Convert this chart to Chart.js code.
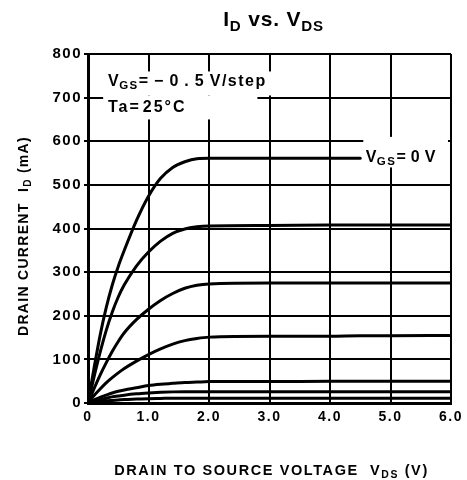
<!DOCTYPE html>
<html>
<head>
<meta charset="utf-8">
<script src="https://cdn.jsdelivr.net/npm/chart.js@4/dist/chart.umd.min.js"></script>
<style>
  html, body { margin: 0; padding: 0; background: #fff; }
  #wrap { width: 467px; height: 480px; position: relative; }
</style>
</head>
<body>
<div id="wrap"><canvas id="c" width="467" height="480"></canvas></div>
<script>
// Drain-source voltage sample points (V)
const vds = [0, 0.1, 0.2, 0.3, 0.4, 0.5, 0.6, 0.8, 1.0, 1.2, 1.4, 1.6, 1.8, 2.0, 3.0, 4.0, 4.5, 5.0, 6.0];
// Drain current (mA) per gate-source voltage step (VGS = 0, -0.5, -1.0, ... V)
const idVgs0   = [0, 80, 155, 218, 270, 313, 350, 418, 474, 515, 540, 553, 560, 561, 561, 561, 561, null, null];
const idVgsM05 = [0, 60, 116, 166, 208, 243, 271, 314, 346, 371, 389, 399, 404, 406, 407, 408, 408, 408, 408];
const idVgsM10 = [0, 33, 64, 92, 118, 141, 161, 191, 215, 235, 251, 263, 270, 273, 275, 275, 275, 275, 275];
const idVgsM15 = [0, 17, 32, 46, 58, 69, 79, 96, 111, 124, 135, 143, 148, 151, 153, 153, 154, 154, 155];
const idVgsM20 = [0, 7, 13, 18, 23, 27, 30, 35, 40, 43, 45, 47, 48, 49, 49, 50, 50, 50, 50];
const idVgsM25 = [0, 4, 8, 11, 14, 16, 18, 21, 23, 24.5, 25.5, 26, 26, 26, 26, 26, 26, 26, 26];
const idVgsM30 = [0, 2, 3.5, 5, 6, 7, 8, 9, 10, 10.5, 11, 11, 11, 11, 11, 11, 11, 11, 11];
const seriesList = [idVgs0, idVgsM05, idVgsM10, idVgsM15, idVgsM20, idVgsM25, idVgsM30];
const seriesNames = ['VGS=0V', 'VGS=-0.5V', 'VGS=-1.0V', 'VGS=-1.5V', 'VGS=-2.0V', 'VGS=-2.5V', 'VGS=-3.0V'];
// Axis tick values
const xTicks = [0, 1, 2, 3, 4, 5, 6];
const yTicks = [0, 100, 200, 300, 400, 500, 600, 700, 800];

const FONT = '"Liberation Sans", Arial, Helvetica, sans-serif';

function toPoints(arr) {
  const pts = [];
  arr.forEach((v, i) => { if (v !== null) pts.push({ x: vds[i], y: v }); });
  return pts;
}

function setFont(ctx, p, size, weight, sp) {
  const s = p.sub ? size * 0.72 : size;
  ctx.font = weight + ' ' + s + 'px ' + FONT;
  ctx.letterSpacing = (p.sp !== undefined ? p.sp : sp) + 'px';
}
function drawRich(ctx, parts, x, y, size, weight, align, sp) {
  ctx.save();
  ctx.textBaseline = 'alphabetic';
  ctx.textAlign = 'left';
  ctx.fillStyle = '#000';
  let w = 0;
  parts.forEach(p => { setFont(ctx, p, size, weight, sp); w += ctx.measureText(p.t).width; });
  let cx = align === 'center' ? x - w / 2 : x;
  parts.forEach(p => {
    setFont(ctx, p, size, weight, sp);
    ctx.fillText(p.t, cx, p.sub ? y + size * 0.22 : y);
    cx += ctx.measureText(p.t).width;
  });
  ctx.restore();
  return w;
}

const textPlugin = {
  id: 'texts',
  beforeDraw(chart) {
    chart.ctx.letterSpacing = '1.5px';
  },
  afterDatasetsDraw(chart) {
    const ctx = chart.ctx;
    const xs = chart.scales.x, ys = chart.scales.y;
    ctx.save();
    ctx.letterSpacing = '0px';
    ctx.fillStyle = '#fff';
    const bx = xs.getPixelForValue(0.25);
    ctx.fillRect(bx, ys.getPixelForValue(760), xs.getPixelForValue(3.15) - bx, ys.getPixelForValue(705) - ys.getPixelForValue(760));
    ctx.fillRect(bx, ys.getPixelForValue(705), xs.getPixelForValue(2.8) - bx, ys.getPixelForValue(650) - ys.getPixelForValue(705));
    const lx = xs.getPixelForValue(4.55);
    ctx.fillRect(lx, ys.getPixelForValue(610), xs.getPixelForValue(5.95) - lx, ys.getPixelForValue(540) - ys.getPixelForValue(610));
    ctx.restore();

    const ax = xs.getPixelForValue(0.33);
    drawRich(ctx, [{t:'V', sp:0.5},{t:'GS',sub:true, sp:1.5},{t:'=\u2212', sp:6},{t:'0.5', sp:6},{t:'V/step', sp:1.5}], ax, ys.getPixelForValue(727), 16, 'bold', 'left', 1);
    drawRich(ctx, [{t:'Ta', sp:2},{t:'=', sp:4},{t:'25\u00B0C', sp:2}], ax, ys.getPixelForValue(667), 16, 'bold', 'left', 1);
    drawRich(ctx, [{t:'V', sp:0.5},{t:'GS',sub:true, sp:1.5},{t:'=0V', sp:5}], xs.getPixelForValue(4.59), ys.getPixelForValue(553), 16, 'bold', 'left', 1);
  },
  afterDraw(chart) {
    const ctx = chart.ctx;
    const ca = chart.chartArea;
    const cxm = (ca.left + ca.right) / 2;
    drawRich(ctx, [{t:'I'},{t:'D',sub:true},{t:' vs. V'},{t:'DS',sub:true}], cxm + 4, 26, 21, 'bold', 'center', 0.8);
    drawRich(ctx, [{t:'DRAIN TO SOURCE VOLTAGE  V'},{t:'DS',sub:true},{t:' (V)'}], cxm + 2, 475, 14.5, 'bold', 'center', 1.6);
    ctx.save();
    ctx.translate(28, 236);
    ctx.rotate(-Math.PI / 2);
    drawRich(ctx, [{t:'DRAIN CURRENT  I'},{t:'D',sub:true},{t:' (mA)'}], 0, 0, 14, 'bold', 'center', 1.3);
    ctx.restore();
  }
};

const datasets = seriesList.map((arr, i) => ({
  label: seriesNames[i],
  data: toPoints(arr),
  borderColor: '#000',
  borderWidth: 3,
  pointRadius: 0,
  fill: false,
  cubicInterpolationMode: 'monotone',
  borderCapStyle: 'round'
}));

new Chart(document.getElementById('c'), {
  type: 'line',
  data: { datasets },
  options: {
    responsive: false,
    animation: false,
    devicePixelRatio: 1,
    layout: { padding: { top: 54, right: 16, left: 0, bottom: 0 } },
    plugins: { legend: { display: false }, tooltip: { enabled: false }, title: { display: false } },
    scales: {
      x: {
        type: 'linear',
        min: xTicks[0], max: xTicks[xTicks.length - 1],
        afterBuildTicks: s => { s.ticks = xTicks.map(v => ({ value: v })); },
        afterFit: s => { s.height = 77; },
        grid: { color: '#000', lineWidth: 2, drawTicks: false },
        border: { display: true, color: '#000', width: 3 },
        ticks: {
          color: '#000', padding: 6, maxRotation: 0,
          font: { family: FONT, size: 14, weight: 'bold' },
          callback: v => v === 0 ? '0' : v.toFixed(1)
        }
      },
      y: {
        type: 'linear',
        min: yTicks[0], max: yTicks[yTicks.length - 1],
        afterBuildTicks: s => { s.ticks = yTicks.map(v => ({ value: v })); },
        afterFit: s => { s.width = 88; },
        grid: { color: '#000', lineWidth: 2, tickLength: 4 },
        border: { display: true, color: '#000', width: 3 },
        ticks: {
          color: '#000', padding: 2,
          font: { family: FONT, size: 15, weight: 'bold' }
        }
      }
    }
  },
  plugins: [textPlugin]
});
</script>
</body>
</html>
